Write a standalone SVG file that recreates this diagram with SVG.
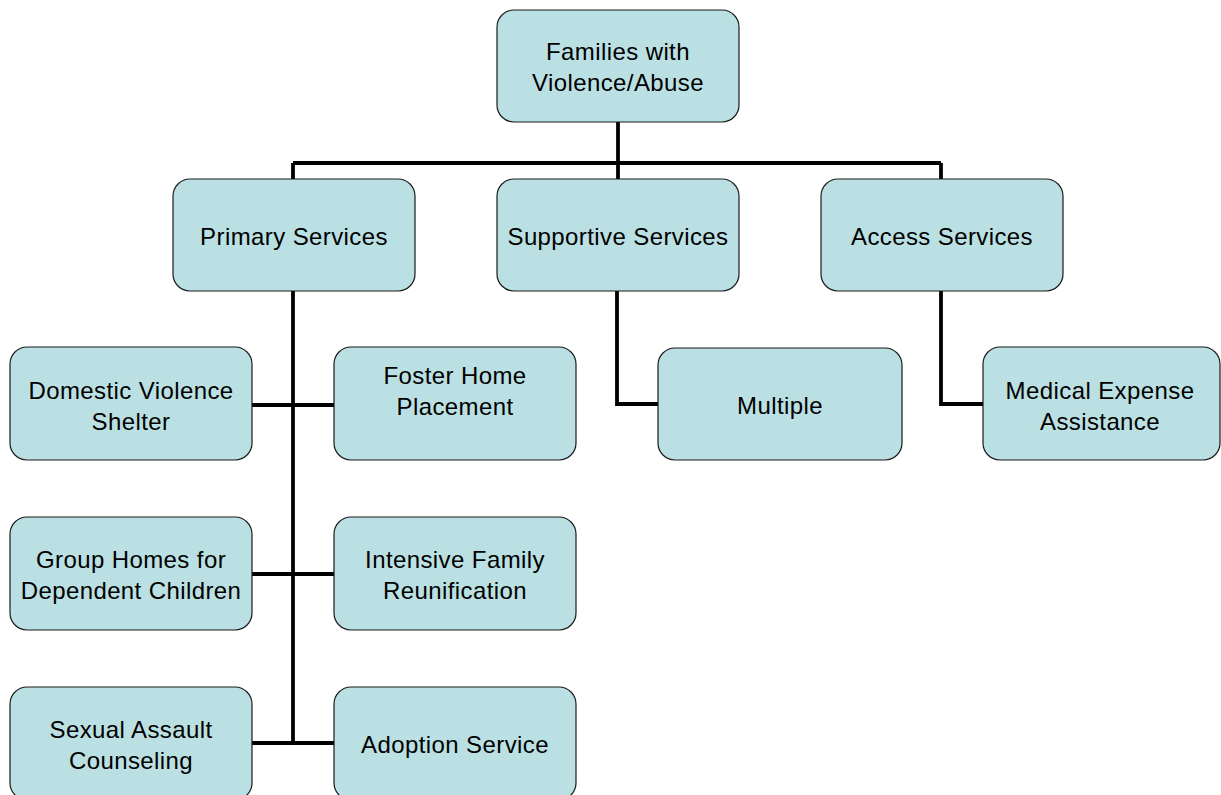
<svg xmlns="http://www.w3.org/2000/svg" width="1221" height="795" viewBox="0 0 1221 795">
<style>
.n rect{fill:#bbe0e3;stroke:#1a1a1a;stroke-width:1.2}
.n text{font-family:"Liberation Sans",Arial,sans-serif;font-size:24px;letter-spacing:0.4px;fill:#000;text-anchor:middle}
.c{stroke:#000;stroke-width:3.8;fill:none}
</style>
<rect width="1221" height="795" fill="#fff"/>
<g id="connectors" class="c">
<path d="M618 122V179"/>
<path d="M293 163H941"/>
<path d="M293 163V179M941 163V179"/>
<path d="M293 291V743"/>
<path d="M252 405H334"/>
<path d="M252 574H334"/>
<path d="M252 743H334"/>
<path d="M617 291V404H658"/>
<path d="M941 291V404H983"/>
</g>
<g id="n-root" class="n"><rect x="497" y="10" width="242" height="112" rx="17"/><text x="618" y="60">Families with</text><text x="618" y="91">Violence/Abuse</text></g>
<g id="n-primary" class="n"><rect x="173" y="179" width="242" height="112" rx="17"/><text x="294" y="245">Primary Services</text></g>
<g id="n-supportive" class="n"><rect x="497" y="179" width="242" height="112" rx="17"/><text x="618" y="245">Supportive Services</text></g>
<g id="n-access" class="n"><rect x="821" y="179" width="242" height="112" rx="17"/><text x="942" y="245">Access Services</text></g>
<g id="n-dvs" class="n"><rect x="10" y="347" width="242" height="113" rx="17"/><text x="131" y="399">Domestic Violence</text><text x="131" y="430">Shelter</text></g>
<g id="n-foster" class="n"><rect x="334" y="347" width="242" height="113" rx="17"/><text x="455" y="384">Foster Home</text><text x="455" y="415">Placement</text></g>
<g id="n-multiple" class="n"><rect x="658" y="348" width="244" height="112" rx="17"/><text x="780" y="414">Multiple</text></g>
<g id="n-medical" class="n"><rect x="983" y="347" width="237" height="113" rx="17"/><text x="1100" y="399">Medical Expense</text><text x="1100" y="430">Assistance</text></g>
<g id="n-group" class="n"><rect x="10" y="517" width="242" height="113" rx="17"/><text x="131" y="568">Group Homes for</text><text x="131" y="599">Dependent Children</text></g>
<g id="n-intensive" class="n"><rect x="334" y="517" width="242" height="113" rx="17"/><text x="455" y="568">Intensive Family</text><text x="455" y="599">Reunification</text></g>
<g id="n-sexual" class="n"><rect x="10" y="687" width="242" height="113" rx="17"/><text x="131" y="738">Sexual Assault</text><text x="131" y="769">Counseling</text></g>
<g id="n-adoption" class="n"><rect x="334" y="687" width="242" height="113" rx="17"/><text x="455" y="753">Adoption Service</text></g>
</svg>
